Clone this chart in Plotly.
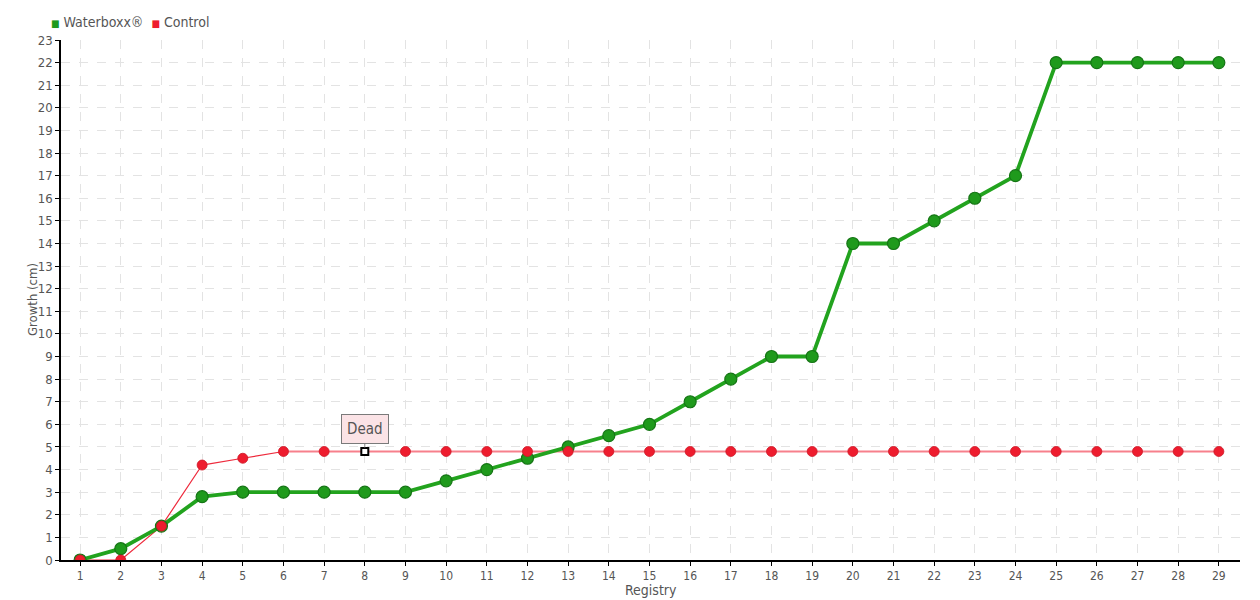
import plotly.graph_objects as go

registry = list(range(1, 30))
waterboxx = [0, 0.5, 1.5, 2.8, 3, 3, 3, 3, 3, 3.5, 4, 4.5, 5, 5.5, 6, 7, 8, 9, 9,
             14, 14, 15, 16, 17, 22, 22, 22, 22, 22]
control = [0, 0, 1.5, 4.2, 4.5, 4.8, 4.8, 4.8, 4.8, 4.8, 4.8, 4.8, 4.8, 4.8, 4.8,
           4.8, 4.8, 4.8, 4.8, 4.8, 4.8, 4.8, 4.8, 4.8, 4.8, 4.8, 4.8, 4.8, 4.8]
dead_at = 8
growth_end = 6  # control stops growing at registry 6

FONT = "DejaVu Sans Condensed"
TXT = "#555555"
GREEN = "#1f9a1c"
RED = "#ee1c2e"

fig = go.Figure()

# Control: growing phase (thin red), then flat phase (pink)
fig.add_trace(go.Scatter(
    x=registry[growth_end - 1:], y=control[growth_end - 1:], mode="lines",
    line=dict(color="#f7808c", width=2), showlegend=False, hoverinfo="skip"))
fig.add_trace(go.Scatter(
    x=registry[:growth_end], y=control[:growth_end], mode="lines",
    line=dict(color="#ee2a3c", width=1.2), showlegend=False, hoverinfo="skip"))

# Waterboxx
fig.add_trace(go.Scatter(
    x=registry, y=waterboxx, mode="lines+markers", name="Waterboxx®",
    line=dict(color="#22a31e", width=3.8), showlegend=False,
    marker=dict(size=12, color=GREEN, line=dict(color="#157515", width=1.2))))

# Control markers
symbols = ["square" if r == dead_at else "circle" for r in registry]
colors = ["#ffffff" if r == dead_at else RED for r in registry]
lcolors = ["#000000" if r == dead_at else "#cc1626" for r in registry]
sizes = [7 if r == dead_at else 10 for r in registry]
lwidths = [2 if r == dead_at else 0.8 for r in registry]
fig.add_trace(go.Scatter(
    x=registry, y=control, mode="markers", name="Control", showlegend=False,
    marker=dict(size=sizes, color=colors, symbol=symbols, opacity=1,
                line=dict(color=lcolors, width=lwidths))))

# Legend drawn as text
fig.add_annotation(
    xref="paper", yref="paper", x=-0.01, y=1.0, yshift=18,
    xanchor="left", yanchor="middle", showarrow=False,
    text=(f"<span style='color:{GREEN};font-size:10px'>■</span> Waterboxx®  "
          f"<span style='color:{RED};font-size:10px'>■</span> Control"),
    font=dict(family=FONT, size=14, color=TXT))

fig.add_annotation(
    x=dead_at, y=control[dead_at - 1], text="Dead", showarrow=True,
    arrowhead=0, arrowwidth=1, arrowcolor="#888888", ax=0, ay=-22, standoff=4,
    bgcolor="#fbe3e6", bordercolor="#7a7a7a", borderwidth=1, borderpad=5,
    font=dict(family=FONT, size=15, color=TXT))

# Axis titles
fig.add_annotation(
    xref="paper", yref="paper", x=0.5, y=0, yshift=-30,
    xanchor="center", yanchor="middle", showarrow=False,
    text="Registry", font=dict(family=FONT, size=14, color=TXT))
fig.add_annotation(
    xref="paper", yref="paper", x=0, y=0.5, xshift=-29,
    xanchor="center", yanchor="middle", showarrow=False, textangle=-90,
    text="Growth (cm)", font=dict(family=FONT, size=13, color=TXT))

axis_common = dict(
    showline=True, linecolor="#000000", linewidth=1.5,
    ticklen=4, tickcolor="#000000",
    showgrid=True, gridcolor="#e3e3e3", griddash="dash", gridwidth=1,
    zeroline=False, automargin=False,
)

fig.update_layout(
    width=1260, height=600,
    margin=dict(l=53, r=28, t=32, b=48),
    plot_bgcolor="white", paper_bgcolor="white",
    font=dict(family=FONT, size=13, color=TXT),
    showlegend=False,
    xaxis=dict(range=[0.53, 29.52], tickmode="array", tickvals=registry,
               ticks="outside", tickfont=dict(family=FONT, size=12, color=TXT),
               **axis_common),
    yaxis=dict(range=[0, 23], dtick=1, tick0=0, ticks="outside",
               tickfont=dict(family=FONT, size=13, color=TXT), **axis_common),
)

fig.write_html("out.html")
